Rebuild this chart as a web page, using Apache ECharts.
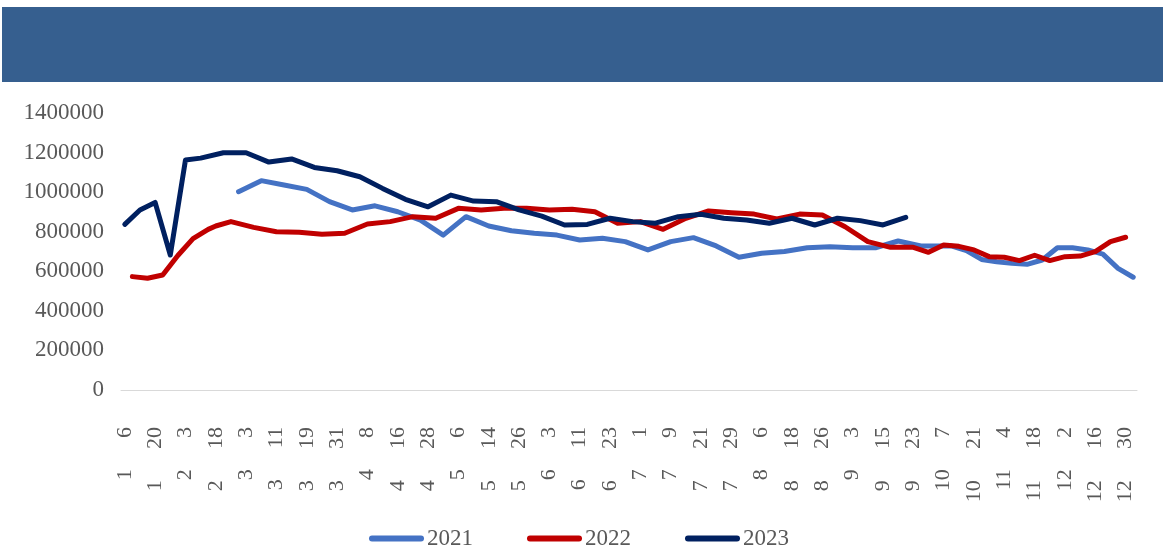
<!DOCTYPE html>
<html>
<head>
<meta charset="utf-8">
<script src="https://cdn.jsdelivr.net/npm/echarts@6/dist/echarts.min.js"></script>
<style>
  html, body { margin: 0; padding: 0; background: #fff; }
  #main { width: 1166px; height: 550px; }
</style>
</head>
<body>
<div id="main"></div>
<script>
// категории: объединение дат (месяц/день) всех трёх лет
const categories = [
  '1/6','1/7','1/13','1/14','1/20','1/21','1/27','1/28','2/3','2/4','2/10','2/11','2/18','2/24','2/25','2/26',
  '3/3','3/4','3/5','3/10','3/11','3/12','3/17','3/18','3/19','3/24','3/25','3/26','3/31',
  '4/1','4/2','4/7','4/8','4/9','4/14','4/15','4/16','4/21','4/22','4/23','4/28','4/29','4/30',
  '5/5','5/6','5/7','5/12','5/13','5/14','5/19','5/20','5/21','5/26','5/27','5/28',
  '6/2','6/3','6/4','6/9','6/10','6/11','6/16','6/17','6/18','6/23','6/24','6/25','6/30',
  '7/1','7/2','7/7','7/8','7/9','7/14','7/15','7/16','7/21','7/22','7/23','7/28','7/29','7/30',
  '8/4','8/5','8/6','8/11','8/12','8/13','8/18','8/19','8/20','8/25','8/26','8/27',
  '9/1','9/2','9/3','9/8','9/9','9/10','9/15','9/16','9/17','9/22','9/23','9/24','9/30',
  '10/1','10/7','10/8','10/14','10/15','10/21','10/22','10/28','10/29',
  '11/4','11/5','11/11','11/12','11/18','11/19','11/25','11/26',
  '12/2','12/3','12/9','12/10','12/16','12/17','12/23','12/24','12/30','12/31'
];

const dates2021 = ['2/26','3/5','3/12','3/19','3/26','4/2','4/9','4/16','4/23','4/30','5/7','5/14','5/21','5/28',
  '6/4','6/11','6/18','6/25','7/2','7/9','7/16','7/23','7/30','8/6','8/13','8/20','8/27','9/3','9/10','9/17',
  '9/24','10/1','10/8','10/15','10/22','10/29','11/5','11/12','11/19','11/26','12/3','12/10','12/17','12/24','12/31'];
const values2021 = [1002000,1058000,1036000,1014000,952000,910000,931000,901000,859000,783000,876000,829000,805000,792000,
  783000,758000,767000,750000,708000,750000,770000,728000,671000,691000,700000,719000,724000,719000,719000,753000,
  728000,728000,728000,705000,660000,648000,640000,635000,657000,719000,719000,708000,687000,615000,570000];

const dates2022 = ['1/7','1/14','1/21','1/28','2/4','2/11','2/18','2/25','3/4','3/11','3/18','3/25','4/1','4/8','4/15',
  '4/22','4/29','5/6','5/13','5/20','5/27','6/3','6/10','6/17','6/24','7/1','7/8','7/15','7/22','7/29','8/5','8/12',
  '8/19','8/26','9/2','9/9','9/16','9/23','9/30','10/7','10/14','10/21','10/28','11/4','11/11','11/18','11/25',
  '12/2','12/9','12/16','12/23','12/30'];
const values2022 = [573000,565000,581000,680000,765000,812000,829000,851000,822000,800000,797000,787000,792000,839000,851000,
  876000,868000,918000,910000,918000,918000,910000,913000,901000,843000,851000,812000,868000,905000,896000,889000,864000,
  889000,884000,825000,750000,721000,721000,696000,733000,726000,708000,674000,671000,654000,681000,654000,
  674000,677000,699000,750000,772000];

const dates2023 = ['1/6','1/13','1/20','1/27','2/3','2/10','2/24','3/3','3/10','3/17','3/24','3/31','4/7','4/14','4/21',
  '4/28','5/5','5/12','5/19','5/26','6/2','6/9','6/16','6/23','6/30','7/7','7/14','7/21','7/28','8/4','8/11','8/18',
  '8/25','9/1','9/8','9/15','9/22'];
const values2023 = [837000,910000,948000,682000,1162000,1172000,1199000,1199000,1152000,1168000,1125000,1108000,1078000,1019000,964000,
  926000,985000,955000,952000,910000,879000,834000,837000,868000,851000,843000,876000,888000,868000,859000,843000,868000,
  834000,868000,856000,834000,873000];

const yTicks = [0, 200000, 400000, 600000, 800000, 1000000, 1200000, 1400000];

function zip(dates, vals) {
    return dates.map((d, i) => [d, vals[i]]);
}

const serifFont = '"Liberation Serif", "Times New Roman", serif';

const chart = echarts.init(document.getElementById('main'), null, { renderer: 'canvas' });

function lineSeries(name, color, data) {
    return {
        name: name,
        type: 'line',
        data: data,
        showSymbol: false,
        symbol: 'none',
        connectNulls: true,
        lineStyle: { color: color, width: 5, cap: 'round', join: 'round' },
        itemStyle: { color: color }
    };
}

const option = {
    animation: false,
    backgroundColor: '#fff',
    graphic: [{
        type: 'rect',
        shape: { x: 2, y: 7, width: 1161, height: 75 },
        style: { fill: '#365F8F' },
        z: -1
    }],
    grid: { left: 121, right: 29, top: 113, bottom: 160, containLabel: false },
    legend: {
        left: 364,
        top: 522,
        itemWidth: 55,
        itemHeight: 6,
        itemGap: 54,
        icon: 'path://M3,0 L52,0 A3,3 0 0 1 52,6 L3,6 A3,3 0 0 1 3,0 Z',
        textStyle: { fontFamily: serifFont, fontSize: 23, color: '#595959', padding: [0, 0, 0, -2] },
        data: ['2021', '2022', '2023']
    },
    xAxis: {
        type: 'category',
        data: categories,
        boundaryGap: true,
        axisLine: { show: true, lineStyle: { color: '#d9d9d9', width: 1 } },
        axisTick: { show: false },
        axisLabel: {
            interval: 3,
            rotate: 90,
            margin: 37,
            fontFamily: serifFont,
            fontSize: 22,
            color: '#595959',
            formatter: v => v.split('/').join('\u3000 \u2006')
        },
        splitLine: { show: false }
    },
    yAxis: {
        type: 'value',
        min: yTicks[0],
        max: yTicks[yTicks.length - 1],
        interval: yTicks[1] - yTicks[0],
        axisLine: { show: false },
        axisTick: { show: false },
        splitLine: { show: false },
        axisLabel: {
            margin: 17,
            fontFamily: serifFont,
            fontSize: 23,
            color: '#595959',
            formatter: v => String(v)
        }
    },
    series: [
        lineSeries('2021', '#4472C4', zip(dates2021, values2021)),
        lineSeries('2022', '#C00000', zip(dates2022, values2022)),
        lineSeries('2023', '#002060', zip(dates2023, values2023))
    ]
};

chart.setOption(option);
</script>
</body>
</html>
